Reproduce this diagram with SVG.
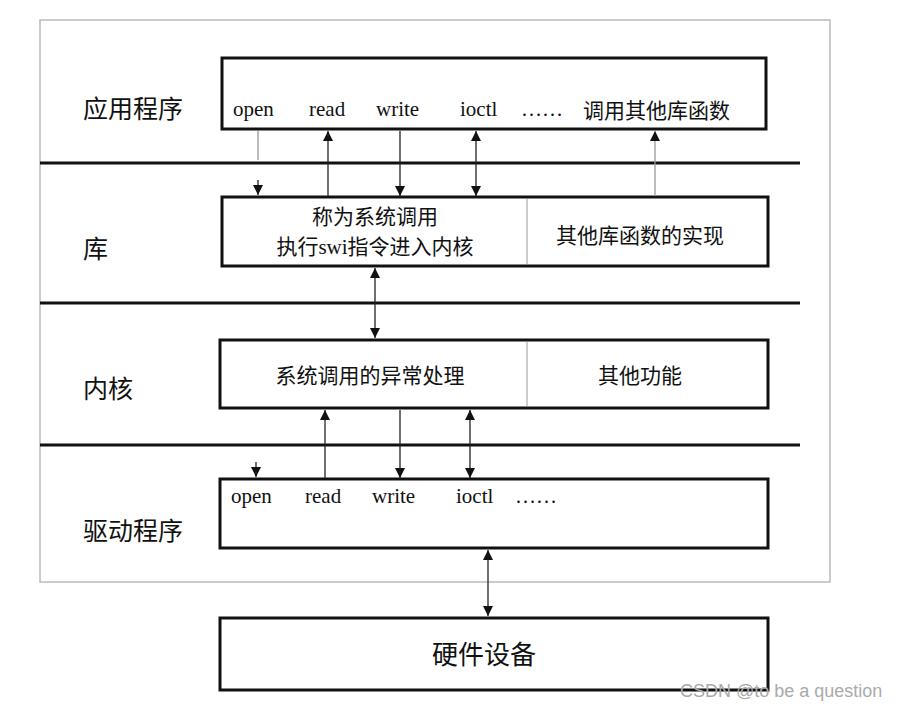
<svg xmlns="http://www.w3.org/2000/svg" width="910" height="710" viewBox="0 0 910 710">
<defs>
<marker id="ah" viewBox="0 0 10 10" refX="10" refY="5" markerWidth="10" markerHeight="10" markerUnits="userSpaceOnUse" orient="auto-start-reverse"><path d="M0,0 L10,5 L0,10 Z" fill="#111"/></marker>
</defs>
<style>
.box{fill:#fff;stroke:#111;stroke-width:3}
.div{stroke:#999;stroke-width:1}
.sep{stroke:#111;stroke-width:3}
.c{stroke:#222;stroke-width:1.3;fill:none}
.l{stroke:#999;stroke-width:1.3;fill:none}
text{font-family:"Liberation Serif","Noto Sans CJK SC",serif;fill:#111}
.lay{font-size:25px}
.fn{font-size:21px}
.cn{font-size:21px}
</style>
<rect width="910" height="710" fill="#fff"/>
<rect x="40" y="20" width="790" height="562" fill="none" stroke="#bbb" stroke-width="1.5"/>
<g id="separators">
<line class="sep" x1="40" y1="163" x2="800" y2="163"/>
<line class="sep" x1="40" y1="303" x2="800" y2="303"/>
<line class="sep" x1="40" y1="445" x2="800" y2="445"/>
</g>
<g id="labels">
<text class="lay" x="83" y="118">应用程序</text>
<text class="lay" x="83" y="258">库</text>
<text class="lay" x="83" y="398">内核</text>
<text class="lay" x="83" y="540">驱动程序</text>
</g>
<g id="app">
<rect class="box" x="222" y="58" width="544" height="71"/>
<text class="fn" x="233" y="116">open</text>
<text class="fn" x="309" y="116">read</text>
<text class="fn" x="376" y="116">write</text>
<text class="fn" x="460" y="116">ioctl</text>
<text class="fn" x="521" y="116">……</text>
<text class="cn" x="583" y="118" fill="#333">调用其他库函数</text>
</g>
<g id="lib">
<rect class="box" x="222" y="197" width="546" height="69"/>
<line class="div" x1="527" y1="199" x2="527" y2="264"/>
<text class="cn" x="375" y="224" text-anchor="middle">称为系统调用</text>
<text class="cn" x="375" y="254" text-anchor="middle">执行swi指令进入内核</text>
<text class="cn" x="640" y="243" text-anchor="middle">其他库函数的实现</text>
</g>
<g id="kernel">
<rect class="box" x="220" y="340" width="548" height="68"/>
<line class="div" x1="527" y1="342" x2="527" y2="406"/>
<text class="cn" x="370" y="383" text-anchor="middle" fill="#444">系统调用的异常处理</text>
<text class="cn" x="640" y="383" text-anchor="middle">其他功能</text>
</g>
<g id="driver">
<rect class="box" x="220" y="479" width="548" height="69"/>
<text class="fn" x="231" y="503">open</text>
<text class="fn" x="305" y="503">read</text>
<text class="fn" x="372" y="503">write</text>
<text class="fn" x="456" y="503">ioctl</text>
<text class="fn" x="515" y="503">……</text>
</g>
<g id="hardware">
<rect class="box" x="220" y="618" width="548" height="72"/>
<text x="484" y="664" text-anchor="middle" font-size="26">硬件设备</text>
</g>
<g id="connectors">
<line class="l" x1="258" y1="131" x2="258" y2="160"/>
<line class="c" x1="258" y1="180" x2="258" y2="195" marker-end="url(#ah)"/>
<line class="c" x1="328" y1="196" x2="328" y2="131" marker-end="url(#ah)"/>
<line class="c" x1="400" y1="131" x2="400" y2="196" marker-end="url(#ah)"/>
<line class="c" x1="476" y1="131" x2="476" y2="196" marker-start="url(#ah)" marker-end="url(#ah)"/>
<line class="l" x1="655" y1="196" x2="655" y2="131" marker-end="url(#ah)"/>
<line class="c" x1="375" y1="268" x2="375" y2="338" marker-start="url(#ah)" marker-end="url(#ah)"/>
<line class="c" x1="325" y1="478" x2="325" y2="410" marker-end="url(#ah)"/>
<line class="c" x1="400" y1="410" x2="400" y2="478" marker-end="url(#ah)"/>
<line class="c" x1="470" y1="410" x2="470" y2="478" marker-start="url(#ah)" marker-end="url(#ah)"/>
<line class="c" x1="256" y1="462" x2="256" y2="477" marker-end="url(#ah)"/>
<line class="c" x1="488" y1="550" x2="488" y2="616" marker-start="url(#ah)" marker-end="url(#ah)"/>
</g>
<text x="680" y="697" font-size="18" style="font-family:'Liberation Sans',sans-serif;fill:#aaa">CSDN @to be a question</text>
</svg>
